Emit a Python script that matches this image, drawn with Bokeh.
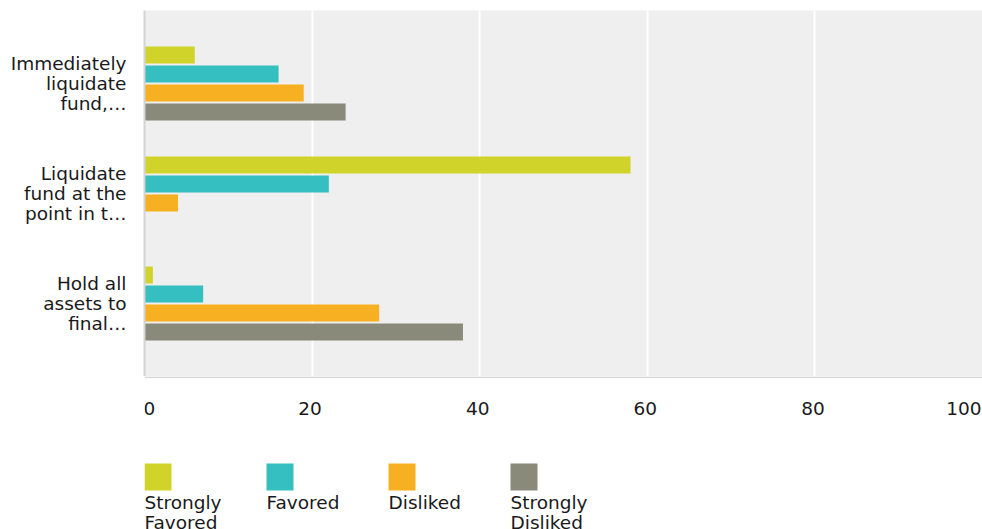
from bokeh.plotting import figure
from bokeh.models import Range1d, ColumnDataSource, FixedTicker
from bokeh.layouts import column
from bokeh.embed import file_html
from bokeh.resources import INLINE
from bokeh.core.properties import value

categories = ["Immediately\nliquidate\nfund,…", "Liquidate\nfund at the\npoint in t…", "Hold all\nassets to\nfinal…"]
series_names = ["Strongly\nFavored", "Favored", "Disliked", "Strongly\nDisliked"]
strongly_favored = [6, 58, 1]
favored = [16, 22, 7]
disliked = [19, 4, 28]
strongly_disliked = [24, 0, 38]
colors = ["#d0d42a", "#35bfc0", "#f7b021", "#8a8a7a"]
x_ticks = [0, 20, 40, 60, 80, 100]

FONT = "DejaVu Sans"
TXT = "#1a1a1a"
AXIS_C = "#d4d4d4"
W, H = 982, 529
LEFT = 144
FW = W - LEFT
TOP = 10
FH = 366
LOW_H = H - TOP - FH

series = [strongly_favored, favored, disliked, strongly_disliked]

group_px = 110
half = FH / group_px / 2
n = len(categories)

p = figure(output_backend="svg", toolbar_location=None,
           x_range=Range1d(0, 100), y_range=Range1d((n - 1) / 2 + half, (n - 1) / 2 - half),
           min_border_left=LEFT, min_border_right=0, min_border_top=TOP, min_border_bottom=0,
           frame_width=FW, frame_height=FH)
p.background_fill_color = "#efefef"
p.border_fill_color = "white"
p.outline_line_color = None

bar_h = 17 / group_px
step = 19 / group_px
for i, (vals, col) in enumerate(zip(series, colors)):
    off = (i - 1.5) * step
    src = ColumnDataSource(dict(y=[k + off for k in range(n)], right=vals))
    p.hbar(y="y", left=0, right="right", height=bar_h, source=src,
           fill_color=col, line_color=None)

p.xgrid.ticker = FixedTicker(ticks=x_ticks)
p.xgrid.grid_line_color = "white"
p.xgrid.grid_line_width = 2
p.ygrid.grid_line_color = None
p.xaxis.visible = False

p.yaxis.ticker = FixedTicker(ticks=list(range(n)))
p.yaxis.major_label_overrides = {k: c for k, c in enumerate(categories)}
p.yaxis.axis_line_color = AXIS_C
p.yaxis.axis_line_width = 2
p.yaxis.major_tick_line_color = None
p.yaxis.minor_tick_line_color = None
p.yaxis.major_label_standoff = 12
p.yaxis.major_label_text_font = FONT
p.yaxis.major_label_text_font_size = "18.5px"
p.yaxis.major_label_text_line_height = 0.95
p.yaxis.major_label_text_color = TXT

# lower strip: x tick labels and legend, sharing the x scale of the chart
lg = figure(output_backend="svg", toolbar_location=None,
            x_range=p.x_range, y_range=Range1d(LOW_H, 0),
            min_border_left=LEFT, min_border_right=0, min_border_top=0, min_border_bottom=0,
            frame_width=FW, frame_height=LOW_H, outline_line_color=None)
lg.axis.visible = False
lg.grid.visible = False
lg.background_fill_color = "white"
lg.border_fill_color = "white"

px = 100 / FW  # data units per pixel
# bottom axis line of the chart area
lg.quad(left=[x_ticks[0]], right=[x_ticks[-1]], top=[0], bottom=[1.5], fill_color=AXIS_C, line_color=None)

tick_y = 32
tl = dict(text_font=value(FONT), text_font_size="18.5px", text_color=TXT, text_baseline="middle")
lg.text(x=x_ticks[:1], y=[tick_y], text=[str(t) for t in x_ticks[:1]], text_align="left", x_offset=-1, **tl)
lg.text(x=x_ticks[1:-1], y=[tick_y] * (len(x_ticks) - 2), text=[str(t) for t in x_ticks[1:-1]],
        text_align="center", x_offset=-2, **tl)
lg.text(x=x_ticks[-1:], y=[tick_y], text=[str(t) for t in x_ticks[-1:]], text_align="right", x_offset=-1, **tl)

lx = [i * 122 * px for i in range(len(series_names))]
lsrc = ColumnDataSource(dict(x=lx, x2=[v + 27 * px for v in lx], c=colors, t=series_names))
lg.quad(left="x", right="x2", top=87, bottom=114, fill_color="c", line_color=None, source=lsrc)
lg.text(x="x", y=115, text="t", source=lsrc, text_font=value(FONT), text_font_size="18.5px",
        text_color=TXT, text_baseline="top", text_align="left", text_line_height=0.98)

layout = column(p, lg, spacing=0)
open("out.html", "w").write(file_html(layout, INLINE))
